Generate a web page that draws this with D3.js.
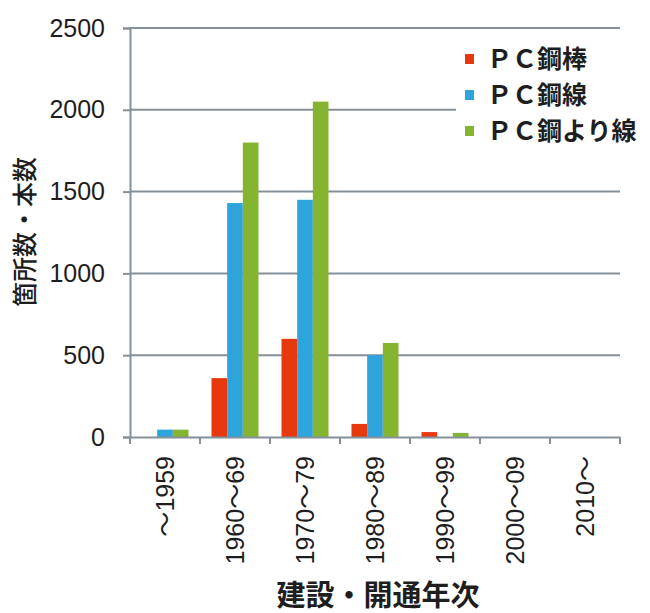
<!DOCTYPE html>
<html>
<head>
<meta charset="utf-8">
<script src="https://cdn.jsdelivr.net/npm/d3@7/dist/d3.min.js"></script>
<style>
  html, body { margin: 0; padding: 0; background: #fff; }
  svg { display: block; }
  text { font-family: "Liberation Sans", "Noto Sans CJK JP", sans-serif; fill: #1e1e1e; }
  .jp { font-family: "Noto Sans CJK JP", sans-serif; }
</style>
</head>
<body>
<svg id="chart" width="650" height="613"></svg>
<script>
// Construction / opening period
const categories = ["～1959", "1960～69", "1970～79", "1980～89", "1990～99", "2000～09", "2010～"];
// Series names (legend)
const seriesNames = ["ＰＣ鋼棒", "ＰＣ鋼線", "ＰＣ鋼より線"];
// Counts per period for each series
const pcBar    = [0, 360, 600, 80, 30, 0, 0];
const pcWire   = [45, 1430, 1450, 500, 0, 0, 0];
const pcStrand = [45, 1800, 2050, 575, 25, 0, 0];
const yTicks = [0, 500, 1000, 1500, 2000, 2500];
const colors = ["#e8380d", "#2ea4dc", "#85b431"];
const yTitle = "箇所数・本数";
const xTitle = "建設・開通年次";

const seriesValues = [pcBar, pcWire, pcStrand];

const svg = d3.select("#chart");
const plotLeft = 130, plotRight = 620, plotTop = 28, plotBottom = 437;

const y = d3.scaleLinear().domain([0, 2500]).range([plotBottom, plotTop]);
const x0 = d3.scaleBand().domain(categories).range([plotLeft, plotRight]).padding(0);
const x1 = d3.scaleBand().domain(seriesNames)
  .range([11.5, x0.bandwidth() - 11.5]).padding(0);

const gridColor = "#84919b";

// horizontal gridlines
svg.append("g").selectAll("line")
  .data(yTicks.filter(d => d > 0))
  .join("line")
  .attr("x1", plotLeft).attr("x2", plotRight)
  .attr("y1", d => y(d)).attr("y2", d => y(d))
  .attr("stroke", gridColor).attr("stroke-width", 2);

// bars
const rows = categories.map((c, i) => ({ c, vals: seriesValues.map((s, j) => ({ name: seriesNames[j], v: s[i], j })) }));
svg.append("g").selectAll("g")
  .data(rows)
  .join("g")
  .attr("transform", d => `translate(${x0(d.c)},0)`)
  .selectAll("rect")
  .data(d => d.vals.filter(v => v.v > 0))
  .join("rect")
  .attr("x", d => x1(d.name))
  .attr("width", x1.bandwidth())
  .attr("y", d => y(d.v))
  .attr("height", d => y(0) - y(d.v))
  .attr("fill", d => colors[d.j]);

// y axis
const yAxis = svg.append("g")
  .attr("transform", `translate(${plotLeft},0)`)
  .call(d3.axisLeft(y).tickValues(yTicks).tickSize(7).tickPadding(18).tickFormat(d3.format("d")));
yAxis.select(".domain").attr("stroke", gridColor).attr("stroke-width", 2);
yAxis.selectAll(".tick line").attr("stroke", gridColor).attr("stroke-width", 2);
yAxis.selectAll(".tick text").attr("font-size", 25).attr("fill", "#1e1e1e")
  .style("font-family", "'Liberation Sans', sans-serif");

// x axis
const xAxis = svg.append("g")
  .attr("transform", `translate(0,${plotBottom})`)
  .call(d3.axisBottom(x0).tickSize(0).tickFormat(""));
xAxis.select(".domain").attr("stroke", gridColor).attr("stroke-width", 2);
// tick marks at category boundaries
svg.append("g").selectAll("line")
  .data(categories.concat(["__end"]))
  .join("line")
  .attr("x1", (d, i) => i < categories.length ? x0(d) : plotRight)
  .attr("x2", (d, i) => i < categories.length ? x0(d) : plotRight)
  .attr("y1", plotBottom).attr("y2", plotBottom + 7)
  .attr("stroke", gridColor).attr("stroke-width", 2);

// rotated category labels
svg.append("g").selectAll("text")
  .data(categories)
  .join("text")
  .attr("transform", d => `translate(${x0(d) + x0.bandwidth() / 2},456) rotate(-90)`)
  .attr("text-anchor", "end")
  .attr("dy", "0.36em")
  .attr("font-size", 25)
  .text(d => d);

// axis titles
svg.append("text")
  .attr("class", "jp")
  .attr("transform", "translate(25,232) rotate(-90)")
  .attr("text-anchor", "middle")
  .attr("dy", "0.36em")
  .attr("font-size", 25)
  .attr("font-weight", 500)
  .text(yTitle);

svg.append("text")
  .attr("class", "jp")
  .attr("x", 378).attr("y", 596)
  .attr("text-anchor", "middle")
  .attr("dy", "0.36em")
  .attr("font-size", 29)
  .attr("font-weight", 700)
  .text(xTitle);

// legend
const legend = svg.append("g");
legend.append("rect")
  .attr("x", 456).attr("y", 40).attr("width", 194).attr("height", 108)
  .attr("fill", "#fff");
const items = legend.selectAll("g")
  .data(seriesNames)
  .join("g")
  .attr("transform", (d, i) => `translate(465,${59 + i * 36})`);
items.append("rect")
  .attr("x", 0).attr("y", -5).attr("width", 9).attr("height", 10)
  .attr("fill", (d, i) => colors[i]);
items.append("text")
  .attr("class", "jp")
  .attr("x", 22)
  .attr("dy", "0.36em")
  .attr("font-size", 25)
  .attr("font-weight", 700)
  .text(d => d);
</script>
</body>
</html>
